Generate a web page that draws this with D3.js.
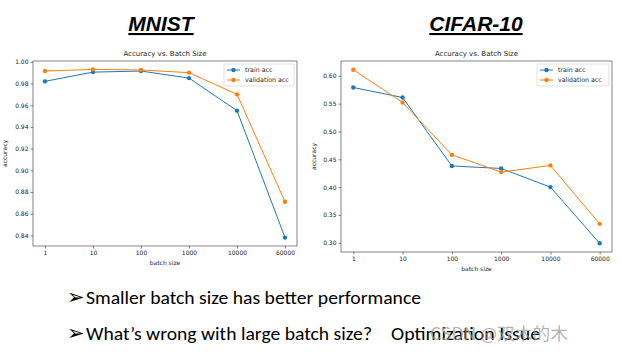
<!DOCTYPE html>
<html>
<head>
<meta charset="utf-8">
<script src="https://cdn.jsdelivr.net/npm/d3@7"></script>
<style>
  body { margin: 0; background: #fff; }
  svg { display: block; }
</style>
</head>
<body>
<svg id="chart" width="621" height="352"></svg>
<script>
// batch sizes (categorical x axis)
const batchSizes = ["1", "10", "100", "1000", "10000", "60000"];

// MNIST accuracies
const mnistTrain = [0.982, 0.9905, 0.9915, 0.985, 0.955, 0.838];
const mnistVal = [0.9915, 0.993, 0.9925, 0.990, 0.970, 0.871];
const mnistTicks = [0.84, 0.86, 0.88, 0.90, 0.92, 0.94, 0.96, 0.98, 1.00];

// CIFAR-10 accuracies
const cifarTrain = [0.579, 0.561, 0.438, 0.4335, 0.400, 0.299];
const cifarVal = [0.611, 0.552, 0.458, 0.427, 0.439, 0.334];
const cifarTicks = [0.30, 0.35, 0.40, 0.45, 0.50, 0.55, 0.60];

const seriesNames = ["train acc", "validation acc"];
const colors = ["#1f77b4", "#ff7f0e"];

const svg = d3.select("#chart");
const mplFont = "'DejaVu Sans', sans-serif";

function drawPanel(opts) {
  const { left, right, top, bottom, train, val, ticks, heading, headingX, legendW } = opts;
  const g = svg.append("g");

  // matplotlib-like 5% margins
  const all = train.concat(val);
  const lo = d3.min(all), hi = d3.max(all), pad = (hi - lo) * 0.05;
  const y = d3.scaleLinear().domain([lo - pad, hi + pad]).range([bottom, top]);
  const x = d3.scaleLinear().domain([-0.25, batchSizes.length - 0.75]).range([left, right]);

  // big heading
  g.append("text")
    .attr("x", headingX).attr("y", 31)
    .attr("text-anchor", "middle")
    .style("font-family", "'Liberation Sans', Arial, sans-serif")
    .style("font-weight", "bold").style("font-style", "italic")
    .style("font-size", "21px")
    .style("text-decoration", "underline")
    .text(heading);

  // title
  g.append("text")
    .attr("x", (left + right) / 2).attr("y", 56)
    .attr("text-anchor", "middle")
    .style("font-family", mplFont).style("font-size", "7px").attr("fill", "#222")
    .text("Accuracy vs. Batch Size");

  // axes frame
  g.append("rect")
    .attr("x", left).attr("y", top)
    .attr("width", right - left).attr("height", bottom - top)
    .attr("fill", "none").attr("stroke", "#333").attr("stroke-width", 0.6);

  // y axis
  const yAxis = d3.axisLeft(y).tickValues(ticks).tickFormat(d3.format(".2f")).tickSize(2.5).tickPadding(2);
  const ya = g.append("g").attr("transform", `translate(${left},0)`).call(yAxis);
  ya.select(".domain").remove();
  ya.selectAll("line").attr("stroke", "#333").attr("stroke-width", 0.6);
  ya.selectAll("text").style("font-family", mplFont).style("font-size", "6px").attr("fill", "#222");

  // x axis
  const xAxis = d3.axisBottom(x).tickValues(d3.range(batchSizes.length))
    .tickFormat(i => batchSizes[i]).tickSize(2.5).tickPadding(2);
  const xa = g.append("g").attr("transform", `translate(0,${bottom})`).call(xAxis);
  xa.select(".domain").remove();
  xa.selectAll("line").attr("stroke", "#333").attr("stroke-width", 0.6);
  xa.selectAll("text").style("font-family", mplFont).style("font-size", "6px").attr("fill", "#222");

  // axis labels
  g.append("text")
    .attr("x", (left + right) / 2).attr("y", bottom + 19)
    .attr("text-anchor", "middle")
    .style("font-family", mplFont).style("font-size", "6px").attr("fill", "#222")
    .text("batch size");
  g.append("text")
    .attr("transform", `translate(${opts.ylabelX},${(top + bottom) / 2}) rotate(-90)`)
    .attr("text-anchor", "middle")
    .style("font-family", mplFont).style("font-size", "6px").attr("fill", "#222")
    .text("accuracy");

  // lines + markers
  const line = d3.line().x((d, i) => x(i)).y(d => y(d));
  [train, val].forEach((s, k) => {
    g.append("path").datum(s)
      .attr("d", line).attr("fill", "none")
      .attr("stroke", colors[k]).attr("stroke-width", 1);
    g.selectAll(null).data(s).enter().append("circle")
      .attr("cx", (d, i) => x(i)).attr("cy", d => y(d))
      .attr("r", 2.2).attr("fill", colors[k]);
  });

  // legend
  const lx = right - legendW - 3, ly = top + 3;
  const leg = g.append("g").attr("transform", `translate(${lx},${ly})`);
  leg.append("rect")
    .attr("width", legendW).attr("height", 22).attr("rx", 1.5)
    .attr("fill", "#fff").attr("fill-opacity", 0.8)
    .attr("stroke", "#ccc").attr("stroke-width", 0.6);
  seriesNames.forEach((name, k) => {
    const yy = 6 + k * 10;
    leg.append("line").attr("x1", 3).attr("x2", 16).attr("y1", yy).attr("y2", yy)
      .attr("stroke", colors[k]).attr("stroke-width", 1);
    leg.append("circle").attr("cx", 9.5).attr("cy", yy).attr("r", 2.2).attr("fill", colors[k]);
    leg.append("text").attr("x", 21).attr("y", yy + 2.2)
      .style("font-family", mplFont).style("font-size", "6.3px").attr("fill", "#222")
      .text(name);
  });
}

drawPanel({ left: 33, right: 297, top: 61, bottom: 246, train: mnistTrain, val: mnistVal,
  ticks: mnistTicks, heading: "MNIST", headingX: 161, legendW: 70, ylabelX: 7 });
drawPanel({ left: 341, right: 612, top: 61, bottom: 252, train: cifarTrain, val: cifarVal,
  ticks: cifarTicks, heading: "CIFAR-10", headingX: 476, legendW: 72, ylabelX: 316 });

// bullet text
const bulletFont = "Carlito, 'Liberation Sans', Arial, sans-serif";
const bullets = [
  { y: 304, text: "Smaller batch size has better performance", len: 335 },
  { y: 340, text: "What\u2019s wrong with large batch size?", len: 286 }
];
bullets.forEach(b => {
  svg.append("text").attr("x", 67).attr("y", b.y)
    .style("font-family", "'DejaVu Sans', sans-serif").style("font-size", "21px")
    .style("font-weight", "bold")
    .text("\u27A2");
  svg.append("text").attr("x", 86).attr("y", b.y)
    .attr("textLength", b.len).attr("lengthAdjust", "spacingAndGlyphs")
    .style("font-family", bulletFont).style("font-size", "19px")
    .text(b.text);
});
svg.append("text").attr("x", 391).attr("y", 340)
  .attr("textLength", 149).attr("lengthAdjust", "spacingAndGlyphs")
  .style("font-family", bulletFont).style("font-size", "19px")
  .text("Optimization Issue");

// watermark
svg.append("text").attr("x", 430).attr("y", 340)
  .attr("textLength", 138).attr("lengthAdjust", "spacingAndGlyphs")
  .style("font-family", "'Noto Sans CJK SC', sans-serif").style("font-size", "17px")
  .attr("fill", "#999").attr("fill-opacity", 0.75)
  .text("CSDN @双木的木");
</script>
</body>
</html>
